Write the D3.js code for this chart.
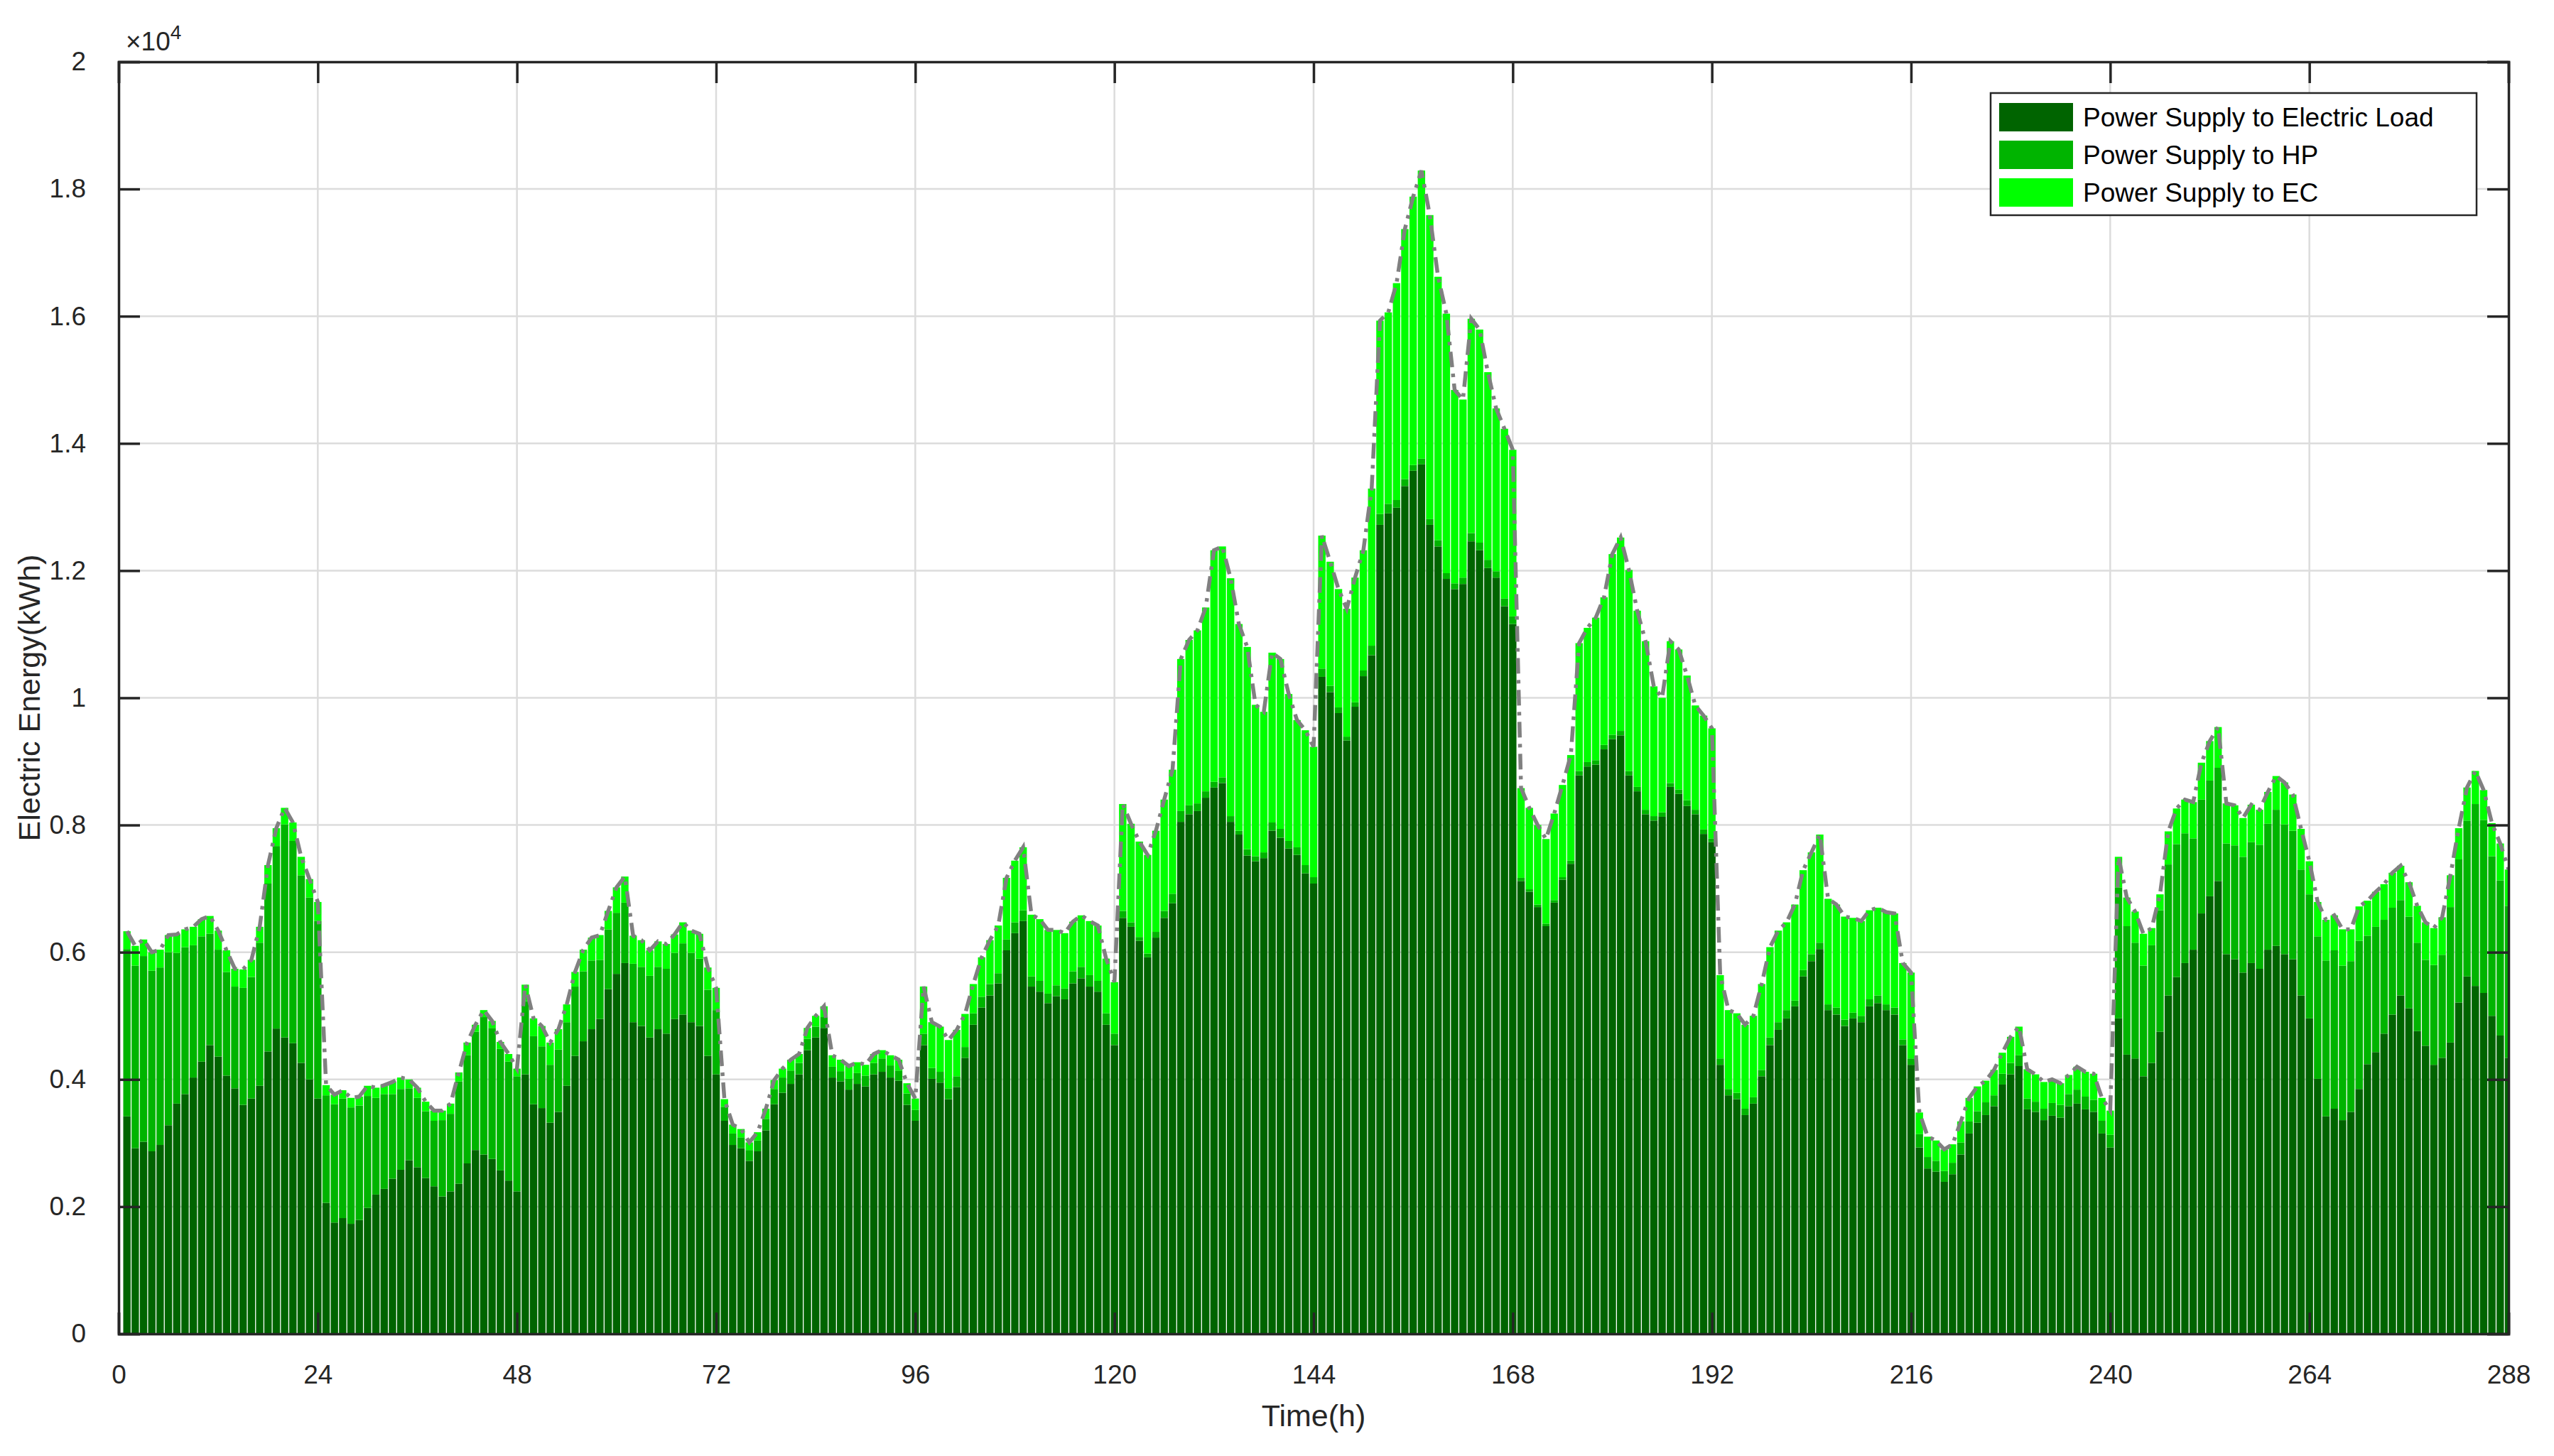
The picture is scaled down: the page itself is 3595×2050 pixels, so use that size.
<!DOCTYPE html>
<html>
<head>
<meta charset="utf-8">
<script src="https://cdn.jsdelivr.net/npm/d3@7"></script>
<style>
	body{margin:0;background:#fff;}
	text{font-family:"Liberation Sans",Arial,sans-serif;}
</style>
</head>
<body>
<div id="drawArea"></div>
<script>
// hourly values (kWh)
var load = [3420,2920,3020,2870,2970,3280,3620,3770,4030,4280,4540,4360,4060,3860,3600,3700,3900,4440,4800,4660,4570,4260,4000,3700,
	2060,1750,1820,1730,1790,1980,2190,2280,2440,2580,2730,2620,2450,2320,2160,2240,2360,2680,2890,2820,2750,2570,2410,2240,
	4080,3610,3550,3320,3490,3900,4370,4600,4790,4950,5420,5660,5830,4900,4840,4660,4790,4720,4950,5020,4900,4840,4370,4080,
	3350,2970,2920,2720,2870,3200,3610,3790,3930,4080,4460,4660,4810,4030,3970,3840,3930,3890,4080,4120,4030,3980,3600,3350,
	4540,4010,3950,3690,3880,4340,4860,5130,5320,5510,6030,6300,6490,5460,5380,5200,5310,5260,5510,5590,5460,5380,4860,4540,
	6540,6400,6180,5920,6230,6540,6770,8050,8170,8220,8430,8590,8660,8050,7850,7520,7430,7480,7910,7800,7630,7530,7240,7080,
	10330,10090,9760,9330,9860,10340,10670,12720,12900,12990,13330,13570,13670,12720,12380,11870,11710,11790,12460,12320,12040,11890,11440,11160,
	7120,6950,6710,6410,6780,7140,7390,8780,8920,8950,9190,9350,9410,8780,8530,8170,8070,8130,8600,8490,8300,8170,7860,7730,
	4230,3750,3690,3440,3620,4050,4540,4780,4960,5150,5620,5860,6050,5090,5020,4840,4960,4900,5150,5200,5090,5020,4540,4230,
	2930,2600,2550,2390,2510,2820,3150,3320,3440,3580,3920,4080,4210,3530,3490,3360,3430,3400,3580,3620,3530,3490,3150,2930,
	4960,4390,4330,4050,4260,4750,5320,5610,5830,6040,6610,6880,7120,5970,5890,5680,5830,5740,6040,6100,5970,5890,5320,4960,
	4010,3420,3540,3360,3490,3850,4240,4430,4720,5020,5320,5120,4760,4530,4230,4340,4580,5210,5620,5470,5360,5000,4690,4340];
var hp = [2630,2870,2920,2840,2790,2720,2370,2310,2080,1970,1750,1680,1630,1600,1840,1910,2250,2640,2870,3350,3180,2950,2860,2790,
	1690,1860,1880,1830,1800,1760,1520,1490,1330,1270,1130,1090,1050,1030,1200,1220,1610,1700,1860,2160,2060,1910,1870,1810,
	1150,1070,970,910,980,1000,1090,1100,1080,930,940,960,950,920,930,970,980,1020,1040,1120,1090,1060,1040,1010,
	220,180,170,170,170,180,240,240,210,180,180,170,170,170,160,170,170,170,180,210,190,160,180,170,
	180,170,170,170,170,170,180,170,180,160,170,170,170,160,170,150,170,170,190,180,180,170,180,180,
	110,70,60,60,90,110,150,170,140,120,100,90,90,90,60,100,80,90,130,140,120,120,130,100,
	130,100,90,60,70,90,150,170,150,120,110,90,90,90,100,90,90,100,130,120,130,100,120,120,
	50,40,40,40,40,40,50,70,70,70,70,70,70,70,70,70,70,70,60,70,90,70,70,60,
	100,100,100,100,100,100,120,120,130,90,100,110,100,90,110,100,90,100,110,120,90,110,90,100,
	210,180,170,170,180,190,190,180,200,170,170,180,170,170,160,180,200,200,190,220,200,190,200,200,
	2060,2020,1820,1740,1850,1910,2060,2090,2040,1750,1790,1820,1780,1740,1790,1820,1900,1950,1980,2140,2040,2020,1980,1950,
	2240,2450,2490,2430,2370,2330,2020,1970,1790,1680,1500,1440,1390,1350,1570,1620,2130,2250,2450,2860,2720,2510,2440,2390];
var ec = [280,310,260,290,280,270,290,280,290,270,280,300,340,280,290,270,250,290,280,260,290,290,290,300,
	160,150,130,150,140,160,160,140,190,180,140,160,150,160,150,160,140,200,110,110,110,110,120,120,
	260,280,320,350,320,280,230,340,360,390,290,400,410,440,420,400,400,390,290,330,350,390,350,350,
	120,140,130,120,130,160,140,140,170,140,170,170,170,180,180,200,170,170,140,130,160,170,160,180,
	740,720,710,760,730,520,460,620,690,750,970,970,990,970,970,1000,870,870,780,810,850,870,860,810,
	1680,1550,1500,1550,1590,1750,1950,2390,2600,2720,2890,3640,3630,3740,3250,3180,2380,2210,2670,2670,2310,2000,2120,2050,
	2090,1950,1860,2010,1960,1890,2470,3040,3010,3410,3930,4220,4530,4780,4140,4080,3040,2800,3370,3350,2950,2560,2670,2620,
	1410,1280,1250,1330,1360,1450,1660,2010,2110,2240,2320,2840,3040,3160,2770,2650,2040,1800,2230,2200,1960,1640,1790,1730,
	1310,1240,1250,1320,1280,1350,1420,1440,1380,1510,1570,1600,1700,1660,1620,1620,1490,1490,1400,1380,1450,1480,1200,1350,
	340,320,320,340,290,330,370,390,340,400,330,410,450,460,430,420,370,340,300,360,390,410,360,380,
	480,450,490,500,270,250,520,560,530,570,580,620,640,630,630,610,590,550,500,530,660,570,640,520,
	540,640,550,570,500,540,550,550,560,550,540,540,580,590,580,590,500,490,520,520,470,520,580,570];
var seriesNames = ["Power Supply to Electric Load","Power Supply to HP","Power Supply to EC"];
var seriesColors = ["#006400","#00b400","#00ff00"];
var xTicks = d3.range(0, 289, 24);
var yTicks = d3.range(0, 20001, 2000);

function start(){
	var W = 3595, H = 2050;
	var margin = {top: 87, right: 64, bottom: 172, left: 167};
	var w = W - margin.left - margin.right;
	var h = H - margin.top - margin.bottom;

	var svg = d3.select("#drawArea").append("svg")
		.attr("width", W).attr("height", H);
	var g = svg.append("g").attr("transform", "translate(" + margin.left + "," + margin.top + ")");

	var x = d3.scaleLinear().domain([0, 288]).range([0, w]);
	var y = d3.scaleLinear().domain([0, 20000]).range([h, 0]);

	var rows = load.map(function(v, i){
		return {hour: i + 1, load: v, hp: hp[i], ec: ec[i]};
	});
	var stack = d3.stack().keys(["load", "hp", "ec"])(rows);

	// grid
	g.append("g").selectAll("line").data(xTicks.slice(1, -1)).enter().append("line")
		.attr("x1", x).attr("x2", x).attr("y1", 0).attr("y2", h)
		.attr("stroke", "#dcdcdc").attr("stroke-width", 2.5);
	g.append("g").selectAll("line").data(yTicks.slice(1, -1)).enter().append("line")
		.attr("y1", y).attr("y2", y).attr("x1", 0).attr("x2", w)
		.attr("stroke", "#dcdcdc").attr("stroke-width", 2.5);

	g.append("clipPath").attr("id", "clip").append("rect").attr("width", w).attr("height", h);
	var bw = (x(1) - x(0)) * 0.89;
	var bars = g.append("g").attr("clip-path", "url(#clip)");
	stack.forEach(function(s, k){
		bars.append("g").attr("fill", seriesColors[k]).selectAll("rect").data(s).enter().append("rect")
			.attr("x", function(d){ return x(d.data.hour) - bw / 2; })
			.attr("width", bw)
			.attr("y", function(d){ return y(d[1]); })
			.attr("height", function(d){ return y(d[0]) - y(d[1]); });
	});

	var line = d3.line()
		.x(function(d){ return x(d.hour); })
		.y(function(d){ return y(d.load + d.hp + d.ec); });
	bars.append("path").datum(rows).attr("d", line)
		.attr("fill", "none").attr("stroke", "#808080").attr("stroke-width", 5.5)
		.attr("stroke-dasharray", "22,9,5,9");

	// axes, with box and inward ticks
	var tickLen = 30;
	var xAxis = g.append("g").attr("transform", "translate(0," + h + ")")
		.call(d3.axisBottom(x).tickValues(xTicks).tickSize(-tickLen).tickPadding(tickLen + 14));
	var yAxis = g.append("g")
		.call(d3.axisLeft(y).tickValues(yTicks).tickSize(-tickLen).tickPadding(tickLen + 16)
			.tickFormat(function(d){ return d3.format("~g")(d / 10000); }));
	g.append("g").call(d3.axisTop(x).tickValues(xTicks).tickSize(-tickLen).tickFormat(""));
	g.append("g").attr("transform", "translate(" + w + ",0)")
		.call(d3.axisRight(y).tickValues(yTicks).tickSize(-tickLen).tickFormat(""));
	g.selectAll(".domain, .tick line").attr("stroke", "#262626").attr("stroke-width", 3.5);
	g.selectAll(".tick text").attr("font-size", 37).attr("fill", "#262626");

	g.append("text").attr("x", 10).attr("y", -16).attr("font-size", 37).attr("fill", "#262626")
		.html("&#215;10<tspan dy='-16' font-size='28'>4</tspan>");

	svg.append("text").attr("x", margin.left + w / 2).attr("y", H - 42).attr("text-anchor", "middle")
		.attr("font-size", 43).attr("fill", "#262626").text("Time(h)");
	svg.append("text").attr("transform", "translate(56," + (margin.top + h / 2) + ") rotate(-90)")
		.attr("text-anchor", "middle").attr("font-size", 43).attr("fill", "#262626").text("Electric Energy(kWh)");

	// legend
	var lg = svg.append("g").attr("transform", "translate(2802,131)");
	lg.append("rect").attr("width", 684).attr("height", 172).attr("fill", "#fff")
		.attr("stroke", "#262626").attr("stroke-width", 2.5);
	seriesNames.forEach(function(name, k){
		var row = lg.append("g").attr("transform", "translate(12," + (14 + k * 53) + ")");
		row.append("rect").attr("width", 104).attr("height", 40).attr("fill", seriesColors[k]);
		row.append("text").attr("x", 118).attr("y", 33).attr("font-size", 37).attr("fill", "#000").text(name);
	});
}
start();
</script>
</body>
</html>
